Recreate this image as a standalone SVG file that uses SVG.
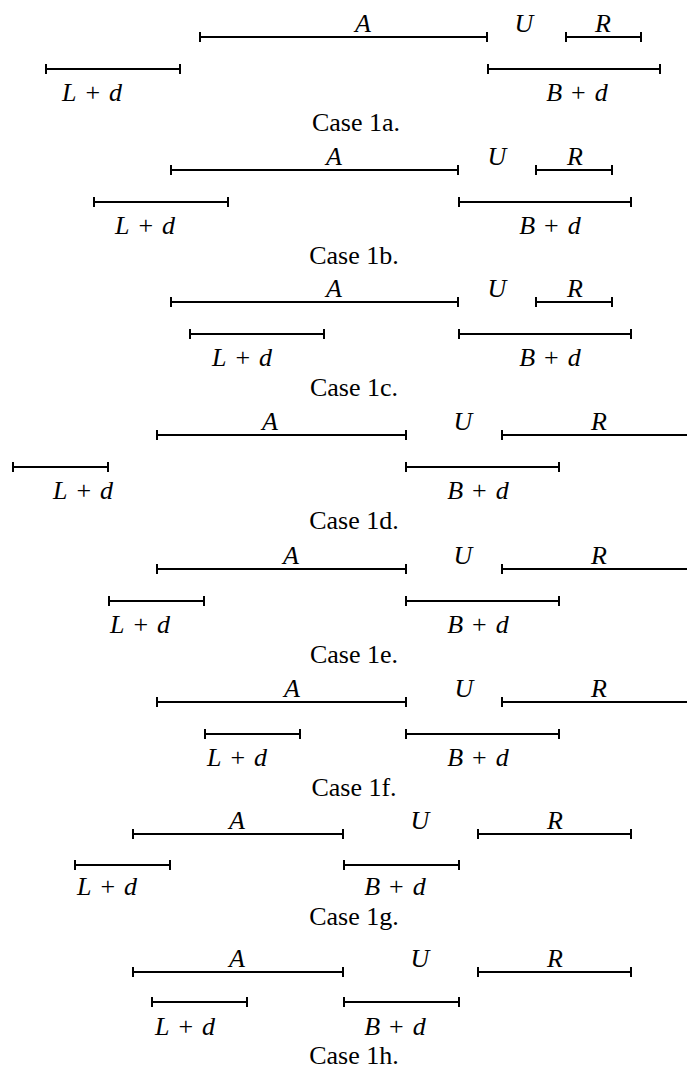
<svg xmlns="http://www.w3.org/2000/svg" width="687" height="1072" viewBox="0 0 687 1072">
<style>
.seg{fill:none;stroke:#000;stroke-width:2}
text{font-family:'Liberation Serif','DejaVu Serif',serif;font-size:26px;fill:#000;text-anchor:middle}
.m{font-style:italic;word-spacing:2.5px}
</style>
<rect width="687" height="1072" fill="#fff"/>
<g id="case1a">
<g id="a-A"><path class="seg" d="M200 32v10M200 37H487M487 32v10"/><text class="m" x="363" y="32">A</text></g>
<g id="a-U"><text class="m" x="524" y="32">U</text></g>
<g id="a-R"><path class="seg" d="M566 32v10M566 37H641M641 32v10"/><text class="m" x="603" y="32">R</text></g>
<g id="a-L"><path class="seg" d="M46 64v10M46 69H180M180 64v10"/><text class="m" x="92" y="101">L<tspan font-style="normal"> + </tspan>d</text></g>
<g id="a-B"><path class="seg" d="M488 64v10M488 69H660M660 64v10"/><text class="m" x="577" y="101">B<tspan font-style="normal"> + </tspan>d</text></g>
<text x="356" y="131">Case 1a.</text>
</g>
<g id="case1b">
<g id="b-A"><path class="seg" d="M171 165v10M171 170H458M458 165v10"/><text class="m" x="334" y="165">A</text></g>
<g id="b-U"><text class="m" x="497" y="165">U</text></g>
<g id="b-R"><path class="seg" d="M536 165v10M536 170H612M612 165v10"/><text class="m" x="575" y="165">R</text></g>
<g id="b-L"><path class="seg" d="M94 197v10M94 202H228M228 197v10"/><text class="m" x="145" y="234">L<tspan font-style="normal"> + </tspan>d</text></g>
<g id="b-B"><path class="seg" d="M459 197v10M459 202H631M631 197v10"/><text class="m" x="550" y="234">B<tspan font-style="normal"> + </tspan>d</text></g>
<text x="354" y="264">Case 1b.</text>
</g>
<g id="case1c">
<g id="c-A"><path class="seg" d="M171 297v10M171 302H458M458 297v10"/><text class="m" x="334" y="297">A</text></g>
<g id="c-U"><text class="m" x="497" y="297">U</text></g>
<g id="c-R"><path class="seg" d="M536 297v10M536 302H612M612 297v10"/><text class="m" x="575" y="297">R</text></g>
<g id="c-L"><path class="seg" d="M190 329v10M190 334H324M324 329v10"/><text class="m" x="242" y="366">L<tspan font-style="normal"> + </tspan>d</text></g>
<g id="c-B"><path class="seg" d="M459 329v10M459 334H631M631 329v10"/><text class="m" x="550" y="366">B<tspan font-style="normal"> + </tspan>d</text></g>
<text x="354" y="396">Case 1c.</text>
</g>
<g id="case1d">
<g id="d-A"><path class="seg" d="M157 430v10M157 435H406M406 430v10"/><text class="m" x="270" y="430">A</text></g>
<g id="d-U"><text class="m" x="463" y="430">U</text></g>
<g id="d-R"><path class="seg" d="M502 430v10M502 435H687"/><text class="m" x="599" y="430">R</text></g>
<g id="d-L"><path class="seg" d="M13 462v10M13 467H108M108 462v10"/><text class="m" x="83" y="499">L<tspan font-style="normal"> + </tspan>d</text></g>
<g id="d-B"><path class="seg" d="M406 462v10M406 467H559M559 462v10"/><text class="m" x="478" y="499">B<tspan font-style="normal"> + </tspan>d</text></g>
<text x="354" y="529">Case 1d.</text>
</g>
<g id="case1e">
<g id="e-A"><path class="seg" d="M157 564v10M157 569H406M406 564v10"/><text class="m" x="291" y="564">A</text></g>
<g id="e-U"><text class="m" x="463" y="564">U</text></g>
<g id="e-R"><path class="seg" d="M502 564v10M502 569H687"/><text class="m" x="599" y="564">R</text></g>
<g id="e-L"><path class="seg" d="M109 596v10M109 601H204M204 596v10"/><text class="m" x="140" y="633">L<tspan font-style="normal"> + </tspan>d</text></g>
<g id="e-B"><path class="seg" d="M406 596v10M406 601H559M559 596v10"/><text class="m" x="478" y="633">B<tspan font-style="normal"> + </tspan>d</text></g>
<text x="354" y="663">Case 1e.</text>
</g>
<g id="case1f">
<g id="f-A"><path class="seg" d="M157 697v10M157 702H406M406 697v10"/><text class="m" x="292" y="697">A</text></g>
<g id="f-U"><text class="m" x="464" y="697">U</text></g>
<g id="f-R"><path class="seg" d="M502 697v10M502 702H687"/><text class="m" x="599" y="697">R</text></g>
<g id="f-L"><path class="seg" d="M205 729v10M205 734H300M300 729v10"/><text class="m" x="237" y="766">L<tspan font-style="normal"> + </tspan>d</text></g>
<g id="f-B"><path class="seg" d="M406 729v10M406 734H559M559 729v10"/><text class="m" x="478" y="766">B<tspan font-style="normal"> + </tspan>d</text></g>
<text x="354" y="796">Case 1f.</text>
</g>
<g id="case1g">
<g id="g-A"><path class="seg" d="M133 829v10M133 834H343M343 829v10"/><text class="m" x="237" y="829">A</text></g>
<g id="g-U"><text class="m" x="420" y="829">U</text></g>
<g id="g-R"><path class="seg" d="M478 829v10M478 834H631M631 829v10"/><text class="m" x="555" y="829">R</text></g>
<g id="g-L"><path class="seg" d="M75 860v10M75 865H170M170 860v10"/><text class="m" x="107" y="895">L<tspan font-style="normal"> + </tspan>d</text></g>
<g id="g-B"><path class="seg" d="M344 860v10M344 865H459M459 860v10"/><text class="m" x="395" y="895">B<tspan font-style="normal"> + </tspan>d</text></g>
<text x="354" y="925">Case 1g.</text>
</g>
<g id="case1h">
<g id="h-A"><path class="seg" d="M133 967v10M133 972H343M343 967v10"/><text class="m" x="237" y="967">A</text></g>
<g id="h-U"><text class="m" x="420" y="967">U</text></g>
<g id="h-R"><path class="seg" d="M478 967v10M478 972H631M631 967v10"/><text class="m" x="555" y="967">R</text></g>
<g id="h-L"><path class="seg" d="M152 997v10M152 1002H247M247 997v10"/><text class="m" x="185" y="1035">L<tspan font-style="normal"> + </tspan>d</text></g>
<g id="h-B"><path class="seg" d="M344 997v10M344 1002H459M459 997v10"/><text class="m" x="395" y="1035">B<tspan font-style="normal"> + </tspan>d</text></g>
<text x="354" y="1064">Case 1h.</text>
</g>
</svg>
